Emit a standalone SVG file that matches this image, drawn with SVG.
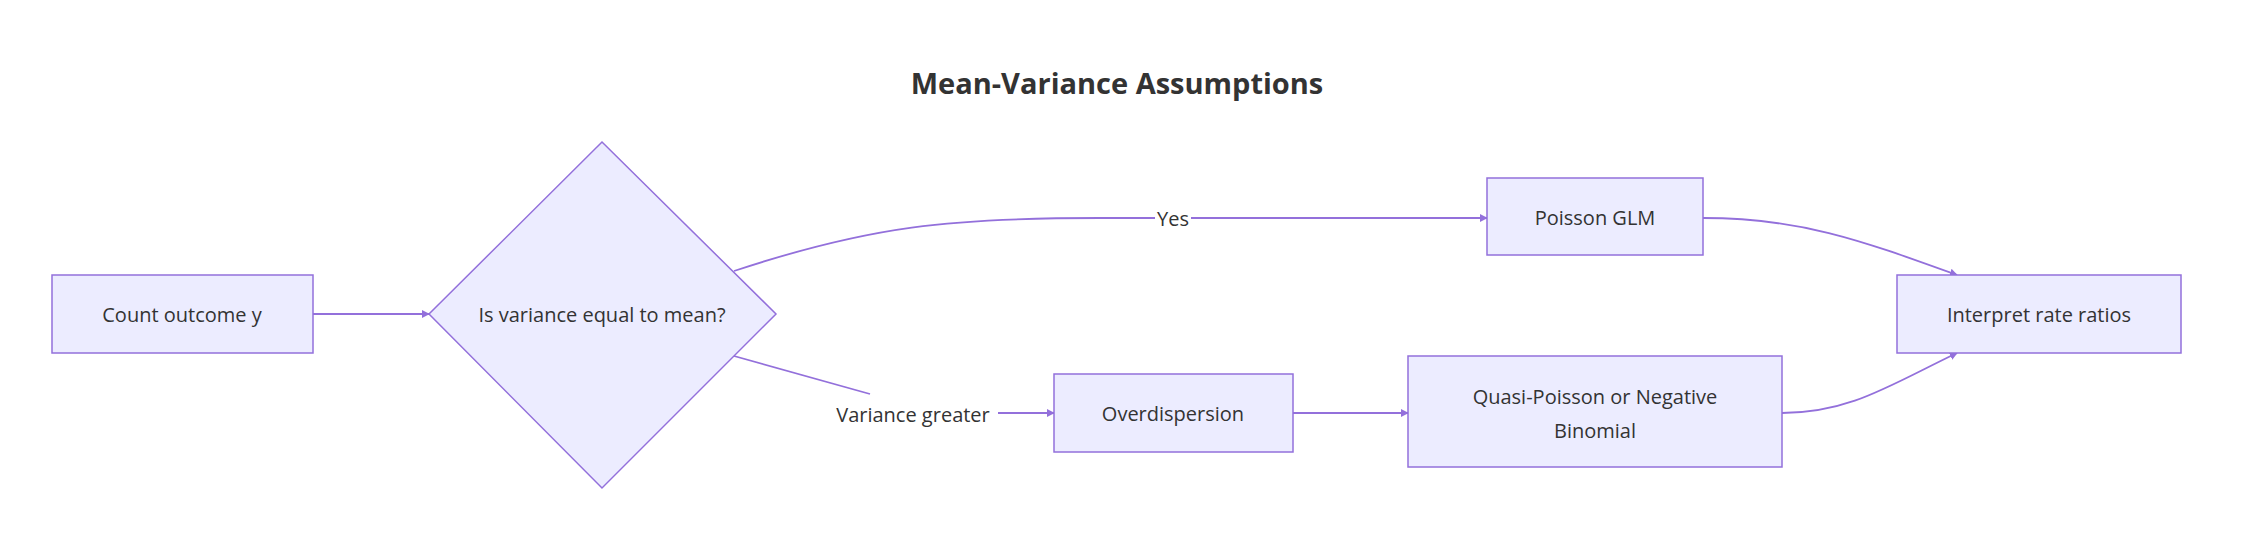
<svg xmlns="http://www.w3.org/2000/svg" width="2248" height="544" viewBox="0 0 2248 544">
<style>
.n{fill:#ECECFF;stroke:#9370DB;stroke-width:1.5}
.t{font-family:"Open Sans","Liberation Sans",sans-serif;font-size:20px;fill:#333;text-anchor:middle;dominant-baseline:central}
.e{fill:none;stroke:#9370DB;stroke-width:1.8}
.lb{fill:#fff}
</style>
<defs><marker id="a" viewBox="0 0 10 10" refX="9" refY="5" markerWidth="8" markerHeight="8" markerUnits="userSpaceOnUse" orient="auto"><path d="M0,0L10,5L0,10z" fill="#9370DB"/></marker></defs>
<rect width="2248" height="544" fill="#fff"/>
<text x="1117" y="82" class="t" style="font-size:29px;font-weight:bold">Mean-Variance Assumptions</text>
<g id="edges">
<path class="e" d="M313,314L429,314" marker-end="url(#a)"/>
<path class="e" d="M734,271C870,226 950,218 1100,218L1487,218" marker-end="url(#a)"/>
<path class="e" d="M734,356L870,394"/>
<path class="e" d="M998,413L1054,413" marker-end="url(#a)"/>
<path class="e" d="M1293,413L1408,413" marker-end="url(#a)"/>
<path class="e" d="M1703,218C1800,218 1860,240 1957,275" marker-end="url(#a)"/>
<path class="e" d="M1782,413C1850,413 1890,385 1957,353" marker-end="url(#a)"/>
<rect class="lb" x="1155" y="206" width="36" height="24"/>
<text x="1173" y="218" class="t">Yes</text>
<text x="913" y="414" class="t">Variance greater</text>
</g>
<g id="count"><rect class="n" x="52" y="275" width="261" height="78"/><text x="182" y="314" class="t">Count outcome y</text></g>
<g id="decision"><polygon class="n" points="602,142 776,314 602,488 429,314"/><text x="602" y="314" class="t">Is variance equal to mean?</text></g>
<g id="poisson"><rect class="n" x="1487" y="178" width="216" height="77"/><text x="1595" y="217" class="t">Poisson GLM</text></g>
<g id="interpret"><rect class="n" x="1897" y="275" width="284" height="78"/><text x="2039" y="314" class="t">Interpret rate ratios</text></g>
<g id="over"><rect class="n" x="1054" y="374" width="239" height="78"/><text x="1173" y="413" class="t">Overdispersion</text></g>
<g id="quasi"><rect class="n" x="1408" y="356" width="374" height="111"/><text x="1595" y="396" class="t">Quasi-Poisson or Negative</text><text x="1595" y="430" class="t">Binomial</text></g>
</svg>
